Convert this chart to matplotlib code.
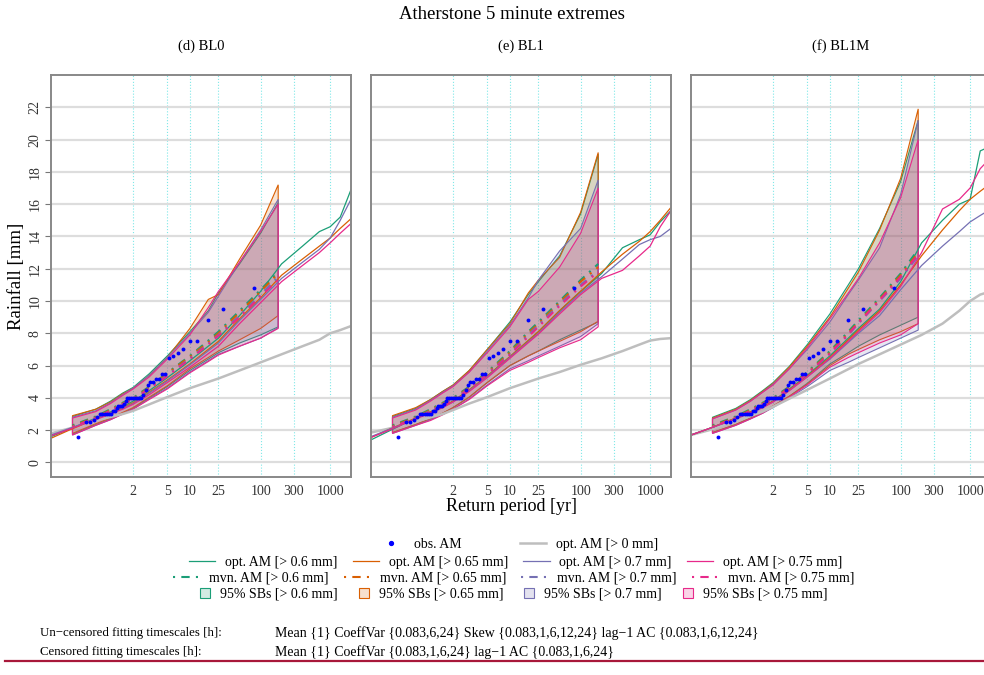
import numpy as np
import matplotlib.pyplot as plt
from matplotlib.lines import Line2D
from matplotlib.patches import Patch
from matplotlib.colors import to_rgb

plt.rcParams['font.family'] = ['Liberation Serif', 'DejaVu Serif']

### return periods [yr] of the simulated AM curves
opt_T = [1.000025, 1.003, 1.1, 1.6, 2, 3, 5, 10, 25, 50, 100, 200, 400, 700, 1000, 1400, 2000]
### return periods of the mvn curves and of the 95% sampling bands
band_T = [1.0056, 1.1, 1.3, 1.6, 2, 3, 5, 10, 18, 25, 50, 100, 178.8]

### observed annual maxima [mm]
obs_am = [1.6, 2.5, 2.5, 2.6, 2.8, 3.0, 3.0, 3.0, 3.0, 3.0, 3.0, 3.2, 3.2, 3.4,
          3.5, 3.5, 3.5, 3.6, 3.8, 4.0, 4.0, 4.0, 4.0, 4.0, 4.0, 4.0, 4.0, 4.2,
          4.5, 4.8, 5.0, 5.0, 5.2, 5.2, 5.5, 5.5, 6.5, 6.6, 6.8, 7.0, 7.5, 7.5,
          8.8, 9.5, 10.8]

thresholds = ['0.6', '0.65', '0.7', '0.75']
colours = ['#1B9E77', '#D95F02', '#7570B3', '#E7298A']
ret_ticks = [2, 5, 10, 25, 100, 300, 1000]
panel_titles = ['(d) BL0', '(e) BL1', '(f) BL1M']

# ---- BL0 ----
bl0_gray = [1.8, 2.1, 2.6, 3.0, 3.2, 3.6, 4.05, 4.6, 5.2, 5.7, 6.2, 6.7, 7.2, 7.6, 8.0, 8.2, 8.45]
bl0_opt = [[1.6, 2.05, 2.75, 3.45, 3.8, 4.45, 5.25, 6.3, 7.7, 9.1, 10.6, 12.3, 13.4, 14.3, 14.6, 15.2, 16.9],
           [1.5, 2.0, 2.7, 3.4, 3.7, 4.35, 5.1, 6.1, 7.5, 8.9, 10.2, 11.6, 12.6, 13.4, 13.9, 14.5, 15.1],
           [1.7, 2.1, 2.7, 3.35, 3.65, 4.3, 5.05, 6.05, 7.4, 8.8, 10.1, 11.4, 12.4, 13.2, 13.9, 15.0, 16.3],
           [1.65, 2.05, 2.65, 3.3, 3.6, 4.2, 4.95, 5.9, 7.2, 8.6, 9.9, 11.2, 12.2, 13.0, 13.6, 14.2, 14.8]]
bl0_mvn = [[2.3, 2.85, 3.3, 3.7, 4.0, 4.7, 5.55, 6.6, 7.55, 8.1, 9.4, 10.7, 11.8],
           [2.25, 2.8, 3.25, 3.65, 3.95, 4.65, 5.5, 6.55, 7.45, 8.0, 9.3, 10.6, 11.7],
           [2.2, 2.75, 3.2, 3.6, 3.9, 4.6, 5.4, 6.45, 7.35, 7.9, 9.1, 10.4, 11.5],
           [2.2, 2.75, 3.2, 3.6, 3.9, 4.55, 5.35, 6.4, 7.3, 7.85, 9.0, 10.3, 11.3]]
bl0_upper = [[2.85, 3.3, 3.8, 4.3, 4.65, 5.5, 6.6, 8.1, 9.4, 10.5, 12.3, 14.2, 16.1],
             [2.9, 3.3, 3.75, 4.25, 4.6, 5.4, 6.5, 8.3, 10.1, 10.4, 12.6, 14.7, 17.2],
             [2.8, 3.2, 3.7, 4.2, 4.6, 5.4, 6.5, 8.0, 9.3, 10.3, 12.4, 14.4, 16.3],
             [2.75, 3.15, 3.65, 4.15, 4.55, 5.3, 6.4, 7.9, 9.6, 10.6, 12.4, 14.3, 16.0]]
bl0_lower = [[1.75, 2.35, 2.7, 3.05, 3.35, 4.0, 4.7, 5.7, 6.4, 6.8, 7.4, 7.9, 8.4],
             [1.8, 2.4, 2.75, 3.1, 3.4, 4.05, 4.75, 5.8, 6.5, 6.9, 7.6, 8.3, 9.1],
             [1.7, 2.3, 2.65, 3.0, 3.3, 3.95, 4.6, 5.6, 6.3, 6.7, 7.2, 7.7, 8.35],
             [1.7, 2.3, 2.65, 3.0, 3.3, 3.9, 4.55, 5.55, 6.25, 6.65, 7.2, 7.7, 8.3]]

# ---- BL1 ----
bl1_gray = [1.85, 2.1, 2.55, 3.0, 3.25, 3.65, 4.05, 4.6, 5.2, 5.6, 6.05, 6.45, 6.9, 7.3, 7.55, 7.65, 7.7]
bl1_opt = [[1.4, 1.95, 2.75, 3.45, 3.8, 4.5, 5.35, 6.55, 8.1, 9.4, 10.6, 11.7, 13.3, 13.8, 14.1, 14.9, 15.6],
           [1.55, 2.05, 2.75, 3.45, 3.8, 4.5, 5.35, 6.55, 8.1, 9.4, 10.6, 11.8, 12.9, 13.7, 14.3, 15.0, 15.8],
           [1.6, 2.05, 2.7, 3.4, 3.75, 4.45, 5.3, 6.5, 8.0, 9.3, 10.5, 11.5, 12.6, 13.5, 13.8, 14.0, 14.5],
           [1.55, 2.0, 2.7, 3.4, 3.75, 4.4, 5.25, 6.45, 7.95, 9.2, 10.4, 11.4, 11.9, 12.8, 13.4, 14.6, 15.6]]
bl1_mvn = [[2.3, 2.85, 3.3, 3.7, 4.0, 4.7, 5.6, 6.9, 8.1, 8.7, 10.0, 11.3, 12.3],
           [2.25, 2.8, 3.25, 3.65, 3.95, 4.65, 5.55, 6.8, 8.0, 8.6, 9.9, 11.2, 12.1],
           [2.2, 2.75, 3.2, 3.6, 3.9, 4.6, 5.5, 6.7, 7.9, 8.5, 9.8, 11.0, 11.9],
           [2.2, 2.7, 3.15, 3.55, 3.85, 4.55, 5.45, 6.65, 7.8, 8.4, 9.7, 10.9, 11.8]]
bl1_upper = [[2.85, 3.35, 3.9, 4.4, 4.8, 5.7, 7.0, 8.7, 10.4, 11.2, 12.8, 15.4, 19.1],
             [2.9, 3.4, 3.9, 4.4, 4.8, 5.7, 7.0, 8.6, 10.5, 11.3, 12.7, 15.5, 19.2],
             [2.8, 3.3, 3.85, 4.35, 4.75, 5.6, 6.9, 8.5, 10.2, 11.3, 13.1, 14.5, 17.5],
             [2.75, 3.25, 3.8, 4.3, 4.7, 5.6, 6.8, 8.4, 10.1, 10.6, 12.1, 14.2, 17.0]]
bl1_lower = [[1.85, 2.35, 2.7, 3.05, 3.4, 4.05, 4.95, 6.0, 6.6, 6.9, 7.6, 8.2, 8.7],
             [1.85, 2.35, 2.7, 3.05, 3.4, 4.05, 4.95, 6.0, 6.6, 6.9, 7.5, 8.1, 8.75],
             [1.8, 2.3, 2.65, 3.0, 3.3, 3.95, 4.8, 5.8, 6.3, 6.6, 7.2, 7.8, 8.6],
             [1.8, 2.3, 2.6, 2.95, 3.3, 3.9, 4.75, 5.7, 6.2, 6.5, 7.1, 7.6, 8.4]]

# ---- BL1M ----
bl1m_gray = [1.7, 2.0, 2.55, 3.15, 3.45, 3.95, 4.5, 5.2, 6.1, 6.7, 7.3, 7.9, 8.6, 9.4, 10.0, 10.4, 10.6]
bl1m_opt = [[1.7, 2.1, 2.75, 3.45, 3.8, 4.55, 5.4, 6.6, 8.3, 9.5, 11.2, 13.6, 15.0, 16.0, 16.3, 19.3, 19.6],
            [1.7, 2.1, 2.75, 3.45, 3.8, 4.5, 5.35, 6.5, 8.2, 9.4, 11.0, 12.8, 14.4, 15.6, 16.3, 16.8, 17.3],
            [1.7, 2.1, 2.7, 3.4, 3.75, 4.45, 5.3, 6.4, 8.0, 9.1, 10.7, 12.2, 13.4, 14.3, 14.9, 15.3, 15.7],
            [1.7, 2.1, 2.7, 3.4, 3.75, 4.45, 5.3, 6.45, 8.1, 9.3, 10.9, 13.0, 15.7, 16.3, 17.0, 18.2, 18.9]]
bl1m_mvn = [[2.3, 2.85, 3.3, 3.7, 4.0, 4.7, 5.6, 6.9, 8.1, 8.8, 10.2, 11.7, 13.2],
            [2.25, 2.8, 3.25, 3.65, 3.95, 4.65, 5.55, 6.8, 8.0, 8.7, 10.1, 11.6, 13.0],
            [2.2, 2.75, 3.2, 3.6, 3.9, 4.6, 5.5, 6.7, 7.9, 8.6, 10.0, 11.4, 12.8],
            [2.2, 2.75, 3.2, 3.6, 3.9, 4.6, 5.5, 6.75, 7.95, 8.65, 10.05, 11.5, 12.9]]
bl1m_upper = [[2.8, 3.35, 3.9, 4.45, 4.95, 5.95, 7.3, 9.2, 11.0, 12.0, 14.5, 17.4, 21.2],
              [2.75, 3.3, 3.85, 4.4, 4.9, 5.9, 7.2, 9.0, 10.8, 11.8, 14.4, 17.6, 21.9],
              [2.7, 3.25, 3.8, 4.35, 4.85, 5.8, 7.0, 8.7, 10.4, 11.3, 13.3, 16.6, 21.2],
              [2.7, 3.25, 3.8, 4.35, 4.8, 5.8, 7.1, 8.9, 10.5, 11.4, 13.6, 16.4, 20.0]]
bl1m_lower = [[1.85, 2.35, 2.75, 3.1, 3.5, 4.1, 4.9, 6.1, 6.8, 7.2, 7.9, 8.5, 9.0],
              [1.85, 2.35, 2.75, 3.1, 3.5, 4.1, 4.85, 6.0, 6.7, 7.0, 7.6, 8.1, 8.6],
              [1.8, 2.3, 2.7, 3.05, 3.4, 4.0, 4.7, 5.7, 6.2, 6.5, 7.1, 7.7, 8.2],
              [1.8, 2.3, 2.7, 3.05, 3.45, 4.05, 4.8, 5.9, 6.5, 6.8, 7.4, 7.9, 8.6]]


### Gumbel reduced variate scale for the return period axis
def gumbel(T):
    T = np.maximum(np.asarray(T, dtype=float), 1 + 1e-12)
    with np.errstate(all='ignore'):
        return -np.log(-np.log(1 - 1 / T))


def gumbel_inv(u):
    u = np.asarray(u, dtype=float)
    with np.errstate(all='ignore'):
        return 1 / (1 - np.exp(-np.exp(-u)))


# Gringorten plotting positions for the observations
n_obs = len(obs_am)
rank = np.arange(1, n_obs + 1)
obs_T = 1 / (1 - (rank - 0.44) / (n_obs + 0.12))

mvn_style = (0, (1, 3, 4, 3))


def draw_panel(ax, title, gray, opt, mvn, upper, lower, first):
    ax.set_xscale('function', functions=(gumbel, gumbel_inv))
    ax.set_xlim(opt_T[0], opt_T[-1])
    ax.set_ylim(-0.9, 24.0)

    ax.set_xticks(ret_ticks)
    ax.set_xticklabels([str(t) for t in ret_ticks])
    ax.xaxis.set_minor_locator(plt.NullLocator())
    ax.set_yticks(np.arange(0, 23, 2))
    ax.grid(axis='y', color='#DDDDDD', lw=1.6)
    ax.grid(axis='x', color='#7FE8E8', lw=0.8, ls=':')
    ax.set_axisbelow(True)

    ax.tick_params(axis='x', length=0, pad=6, labelsize=10, colors='#333333')
    if first:
        ax.tick_params(axis='y', length=4, width=0.8, color='#777777', pad=3,
                       labelsize=10, labelcolor='#333333')
        for lab in ax.get_yticklabels():
            lab.set_rotation(90)
            lab.set_va('center')
    else:
        ax.tick_params(axis='y', left=False, labelleft=False)
    for sp in ax.spines.values():
        sp.set_color('#888888')
        sp.set_linewidth(1.4)

    ax.plot(opt_T, gray, color='#BEBEBE', lw=1.8)

    # 95% sampling bands
    for k in range(4):
        xs = np.r_[band_T, band_T[::-1]]
        ys = np.r_[upper[k], lower[k][::-1]]
        ax.fill(xs, ys, facecolor=colours[k], alpha=0.17, edgecolor='none')
        ax.fill(xs, ys, facecolor='none', edgecolor=colours[k], lw=0.8)

    for k in range(4):
        ax.plot(opt_T, opt[k], color=colours[k], lw=0.9)
    for k in range(4):
        ax.plot(band_T, mvn[k], color=colours[k], lw=1.5, ls=mvn_style)

    ax.plot(obs_T, obs_am, 'o', color='blue', ms=2.8, mec='none')
    ax.set_title(title, fontsize=10.5, pad=18)


fig = plt.figure(figsize=(9.84, 6.75), dpi=100)
lefts = [51, 371, 691]
panels = [(bl0_gray, bl0_opt, bl0_mvn, bl0_upper, bl0_lower),
          (bl1_gray, bl1_opt, bl1_mvn, bl1_upper, bl1_lower),
          (bl1m_gray, bl1m_opt, bl1m_mvn, bl1m_upper, bl1m_lower)]
for i, (left, data) in enumerate(zip(lefts, panels)):
    ax = fig.add_axes([left / 984, 198 / 675, 300 / 984, 402 / 675])
    draw_panel(ax, panel_titles[i], *data, first=(i == 0))
    if i == 0:
        ax.set_ylabel('Rainfall [mm]', fontsize=13.5, labelpad=2)

fig.text(0.52, 0.979, 'Atherstone 5 minute extremes', ha='center', va='center', fontsize=13.5)
fig.text(0.52, 0.249, 'Return period [yr]', ha='center', va='center', fontsize=13)

### legend, one centred row at a time
leg_kw = dict(loc='center', frameon=False, fontsize=10,
              handletextpad=0.7, borderpad=0)
row1 = [Line2D([], [], ls='none', marker='o', color='blue', ms=2.8),
        Line2D([], [], color='#BEBEBE', lw=1.8)]
fig.legend(row1, ['obs. AM', 'opt. AM [> 0 mm]'], ncol=2, handlelength=1.9,
           columnspacing=4.2, bbox_to_anchor=(0.526, 0.194), **leg_kw)
row2 = [Line2D([], [], color=c, lw=0.9) for c in colours]
fig.legend(row2, [f'opt. AM [> {t} mm]' for t in thresholds], ncol=4, handlelength=1.9,
           columnspacing=1.1, bbox_to_anchor=(0.524, 0.167), **leg_kw)
row3 = [Line2D([], [], color=c, lw=1.5, ls=mvn_style) for c in colours]
fig.legend(row3, [f'mvn. AM [> {t} mm]' for t in thresholds], ncol=4, handlelength=1.9,
           columnspacing=1.1, bbox_to_anchor=(0.522, 0.1437), **leg_kw)
row4 = [Patch(facecolor=(*to_rgb(c), 0.2), edgecolor=c, lw=0.8) for c in colours]
fig.legend(row4, [f'95% SBs [> {t} mm]' for t in thresholds], ncol=4,
           handlelength=0.75, handleheight=0.75, columnspacing=1.5,
           bbox_to_anchor=(0.522, 0.12), **leg_kw)

### fitting info at the bottom
fig.text(0.0407, 0.062, 'Un\u2212censored fitting timescales [h]:', fontsize=9.3, va='center')
fig.text(0.2795, 0.062, 'Mean {1} CoeffVar {0.083,6,24} Skew {0.083,1,6,12,24} lag\u22121 AC {0.083,1,6,12,24}',
         fontsize=10, va='center')
fig.text(0.0407, 0.034, 'Censored fitting timescales [h]:', fontsize=9.3, va='center')
fig.text(0.2795, 0.034, 'Mean {1} CoeffVar {0.083,1,6,24} lag\u22121 AC {0.083,1,6,24}',
         fontsize=10, va='center')
fig.add_artist(Line2D([0.005, 1.0], [0.0207, 0.0207], color='#A8183A', lw=1.6))

fig.savefig('out.png', dpi=100)
